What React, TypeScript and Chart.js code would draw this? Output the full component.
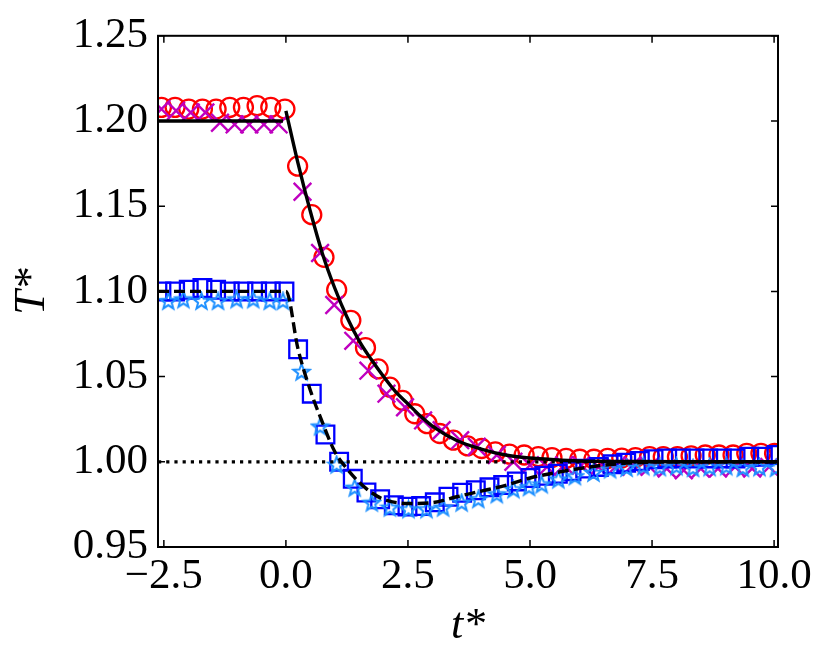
import { useEffect, useRef } from "react";
import Chart from "chart.js/auto";

const xTicks = [-2.5, 0, 2.5, 5, 7.5, 10];
const yTicks = [0.95, 1.0, 1.05, 1.1, 1.15, 1.2, 1.25];

// red circles (T = 1.2 run A)
const circleX = [
  -2.55, -2.27, -1.99, -1.71, -1.43, -1.15, -0.87, -0.59, -0.31, -0.02,
  0.24, 0.53, 0.78, 1.04, 1.33, 1.63, 1.89, 2.13, 2.39, 2.64, 2.89, 3.15,
  3.43, 3.72, 4.01, 4.29, 4.58, 4.88, 5.17, 5.45, 5.74, 6.02, 6.31, 6.59,
  6.88, 7.16, 7.45, 7.73, 8.02, 8.3, 8.59, 8.87, 9.16, 9.44, 9.73, 10.01,
];
const circleY = [
  1.208, 1.208, 1.207, 1.207, 1.207, 1.208, 1.208, 1.209, 1.208, 1.207,
  1.1735, 1.145, 1.12, 1.101, 1.083, 1.067, 1.0545, 1.0438, 1.036, 1.0282,
  1.0224, 1.0166, 1.0127, 1.0093, 1.0078, 1.0058, 1.0045, 1.004, 1.003,
  1.0025, 1.002, 1.0015, 1.0015, 1.002, 1.0022, 1.0025, 1.003, 1.003, 1.003,
  1.0035, 1.004, 1.004, 1.004, 1.005, 1.005, 1.005,
];

// magenta crosses (T = 1.2 run B)
const crossX = [
  -2.55, -2.25, -1.95, -1.65, -1.35, -1.05, -0.75, -0.45, -0.15,
  0.34, 0.7, 0.99, 1.38, 1.69, 2.06, 2.44, 2.81, 3.19, 3.57, 3.91, 4.32,
  4.66, 5.0, 5.35, 5.7, 6.05, 6.4, 6.75, 7.1, 7.45, 7.8, 8.15, 8.5, 8.85,
  9.2, 9.55, 9.9,
];
const crossY = [
  1.207, 1.206, 1.205, 1.205, 1.199, 1.198, 1.198, 1.198, 1.198,
  1.1585, 1.1225, 1.092, 1.071, 1.0535, 1.04, 1.032, 1.0243, 1.0185, 1.0127,
  1.0088, 1.004, 1.0, 0.998, 0.997, 0.998, 0.998, 0.997, 0.997, 0.998,
  0.997, 0.996, 0.995, 0.996, 0.996, 0.997, 0.996, 0.997,
];

// blue squares (T = 1.1 run A)
const squareX = [
  -2.55, -2.27, -1.99, -1.71, -1.43, -1.15, -0.87, -0.59, -0.31, -0.03,
  0.25, 0.53, 0.81, 1.09, 1.37, 1.65, 1.93, 2.21, 2.49, 2.77, 3.05, 3.33,
  3.61, 3.89, 4.17, 4.45, 4.73, 5.01, 5.29, 5.57, 5.85, 6.13, 6.41, 6.69,
  6.97, 7.25, 7.53, 7.81, 8.09, 8.37, 8.65, 8.93, 9.21, 9.49, 9.77, 10.05,
];
const squareY = [
  1.1, 1.1, 1.101, 1.102, 1.101, 1.1, 1.1, 1.1, 1.1, 1.1,
  1.066, 1.04, 1.016, 1.0, 0.99, 0.982, 0.978, 0.9745, 0.9737, 0.974,
  0.9762, 0.9795, 0.9818, 0.9833, 0.985, 0.9864, 0.9885, 0.9905, 0.9918,
  0.993, 0.9945, 0.996, 0.997, 0.9985, 0.9995, 1.0005, 1.0015, 1.002, 1.002,
  1.002, 1.002, 1.002, 1.002, 1.003, 1.003, 1.004,
];

// dodger-blue stars (T = 1.1 run B)
const starX = [
  -2.41, -2.1, -1.73, -1.39, -1.01, -0.67, -0.33, -0.06,
  0.32, 0.7, 1.04, 1.41, 1.76, 2.13, 2.51, 2.88, 3.22, 3.6, 3.94, 4.32,
  4.66, 4.98, 5.24, 5.58, 5.92, 6.3, 6.64, 6.98, 7.32, 7.66, 8.0, 8.34,
  8.68, 9.02, 9.36, 9.7, 10.04,
];
const starY = [
  1.094, 1.095, 1.094, 1.094, 1.095, 1.095, 1.094, 1.094,
  1.0525, 1.0204, 0.998, 0.9845, 0.9757, 0.9728, 0.9718, 0.9718, 0.9728,
  0.9757, 0.9777, 0.9806, 0.9835, 0.9848, 0.9864, 0.9893, 0.9912, 0.9932,
  0.9952, 0.9961, 0.997, 0.9965, 0.997, 0.996, 0.9965, 0.997, 0.996,
  0.9965, 0.996,
];

// solid reference curve (T = 1.2)
const solidX = [
  -2.62, -0.06, -0.03, 0.0, 0.25, 0.5, 0.75, 1.0, 1.25, 1.5, 1.75, 2.0,
  2.25, 2.5, 2.75, 3.0, 3.5, 4.0, 4.5, 5.0, 5.5, 6.0, 7.0, 8.0, 10.08,
];
const solidY = [
  1.2, 1.2, null, 1.206, 1.175, 1.147, 1.122, 1.102, 1.085, 1.071, 1.06,
  1.05, 1.041, 1.034, 1.027, 1.021, 1.0125, 1.0075, 1.004, 1.0022, 1.0012,
  1.0005, 1.0002, 1.0, 1.0,
];

// dashed reference curve (T = 1.1)
const dashedX = [
  -2.62, 0.0, 0.25, 0.5, 0.75, 1.0, 1.25, 1.5, 1.75, 2.0, 2.5, 3.0, 3.5,
  4.0, 4.5, 5.0, 5.5, 6.0, 6.5, 7.0, 8.0, 10.08,
];
const dashedY = [
  1.1, 1.1, 1.066, 1.042, 1.023, 1.006, 0.996, 0.988, 0.982, 0.978, 0.9755,
  0.976, 0.9795, 0.9828, 0.9862, 0.9905, 0.9935, 0.996, 0.998, 0.9992, 1.0,
  1.0,
];

const refX = [-2.62, 10.08];
const refY = [1.0, 1.0];

const FONT = "'Liberation Serif', 'DejaVu Serif', serif";

const zip = (xs: number[], ys: (number | null)[]) =>
  xs.map((x, i) => ({ x, y: ys[i] }));

function makeStar(color: string, r: number) {
  const c = document.createElement("canvas");
  const s = Math.ceil(r * 2 + 4);
  c.width = s;
  c.height = s;
  const ctx = c.getContext("2d");
  if (ctx) {
    ctx.strokeStyle = color;
    ctx.lineWidth = 2;
    ctx.beginPath();
    for (let i = 0; i < 10; i++) {
      const a = -Math.PI / 2 + (i * Math.PI) / 5;
      const rr = i % 2 === 0 ? r : r * 0.42;
      ctx.lineTo(s / 2 + rr * Math.cos(a), s / 2 + rr * Math.sin(a));
    }
    ctx.closePath();
    ctx.stroke();
  }
  return c;
}

// box around the axes plus inward ticks on all four sides
const framePlugin = {
  id: "frame",
  afterDatasetsDraw(chart: any) {
    const { ctx, chartArea: a, scales } = chart;
    ctx.save();
    ctx.strokeStyle = "#000";
    ctx.lineWidth = 1.5;
    const len = 7;
    scales.x.ticks.forEach((t: any) => {
      const px = scales.x.getPixelForValue(t.value);
      ctx.beginPath();
      ctx.moveTo(px, a.bottom);
      ctx.lineTo(px, a.bottom - len);
      ctx.moveTo(px, a.top);
      ctx.lineTo(px, a.top + len);
      ctx.stroke();
    });
    scales.y.ticks.forEach((t: any) => {
      const py = scales.y.getPixelForValue(t.value);
      ctx.beginPath();
      ctx.moveTo(a.left, py);
      ctx.lineTo(a.left + len, py);
      ctx.moveTo(a.right, py);
      ctx.lineTo(a.right - len, py);
      ctx.stroke();
    });
    ctx.lineWidth = 2;
    ctx.strokeRect(a.left, a.top, a.right - a.left, a.bottom - a.top);
    ctx.restore();
  },
};

const App = () => {
  const chartRef = useRef<HTMLCanvasElement>(null);
  const chartInstance = useRef<Chart | null>(null);

  useEffect(() => {
    if (!chartRef.current) return;
    if (chartInstance.current) chartInstance.current.destroy();
    const ctx = chartRef.current.getContext("2d");
    if (!ctx) return;

    const star = makeStar("#1e90ff", 8.5);
    const markerBase = {
      showLine: false,
      backgroundColor: "rgba(0,0,0,0)",
      clip: 0,
    };

    chartInstance.current = new Chart(ctx, {
      type: "scatter",
      data: {
        datasets: [
          {
            data: zip(refX, refY),
            showLine: true,
            borderColor: "#000",
            borderWidth: 3.2,
            borderDash: [3.2, 5],
            pointRadius: 0,
          },
          {
            data: zip(solidX, solidY),
            showLine: true,
            spanGaps: false,
            borderColor: "#000",
            borderWidth: 3.4,
            pointRadius: 0,
            cubicInterpolationMode: "monotone",
          },
          {
            data: zip(dashedX, dashedY),
            showLine: true,
            borderColor: "#000",
            borderWidth: 3.4,
            borderDash: [11, 5],
            pointRadius: 0,
            cubicInterpolationMode: "monotone",
          },
          {
            ...markerBase,
            data: zip(starX, starY),
            pointStyle: star,
            pointRadius: 8.5,
          },
          {
            ...markerBase,
            data: zip(squareX, squareY),
            pointStyle: "rect",
            pointRadius: 12.5,
            borderColor: "#0000ff",
            borderWidth: 2.3,
          },
          {
            ...markerBase,
            data: zip(crossX, crossY),
            pointStyle: "crossRot",
            pointRadius: 12.5,
            borderColor: "#bf00bf",
            borderWidth: 2.4,
          },
          {
            ...markerBase,
            data: zip(circleX, circleY),
            pointStyle: "circle",
            pointRadius: 9.5,
            borderColor: "#ff0000",
            borderWidth: 2.3,
          },
        ] as any,
      },
      options: {
        animation: false,
        responsive: true,
        maintainAspectRatio: false,
        layout: { padding: { top: 33, right: 53, left: 0, bottom: 0 } },
        plugins: {
          legend: { display: false },
          tooltip: { enabled: false },
        },
        scales: {
          x: {
            type: "linear",
            min: -2.62,
            max: 10.08,
            grid: { display: false, drawTicks: false },
            border: { display: false },
            afterBuildTicks: (s: any) => {
              s.ticks = xTicks.map((v) => ({ value: v }));
            },
            afterFit: (s: any) => {
              s.height = 122;
            },
            ticks: {
              padding: 4,
              color: "#000",
              maxRotation: 0,
              font: { family: FONT, size: 43 },
              callback: (v: any) => Number(v).toFixed(1).replace("-", "\u2212"),
            },
            title: {
              display: true,
              text: "t*",
              color: "#000",
              font: { family: FONT, size: 44, style: "italic" },
              padding: { top: 0, bottom: 16 },
            },
          },
          y: {
            type: "linear",
            min: 0.95,
            max: 1.25,
            grid: { display: false, drawTicks: false },
            border: { display: false },
            afterBuildTicks: (s: any) => {
              s.ticks = yTicks.map((v) => ({ value: v }));
            },
            afterFit: (s: any) => {
              s.width = 158;
            },
            ticks: {
              padding: 10,
              color: "#000",
              font: { family: FONT, size: 43 },
              callback: (v: any) => Number(v).toFixed(2),
            },
            title: {
              display: true,
              text: "T*",
              color: "#000",
              font: { family: FONT, size: 44, style: "italic" },
              padding: { top: 6, bottom: 0 },
            },
          },
        },
      },
      plugins: [framePlugin],
    });

    return () => {
      if (chartInstance.current) {
        chartInstance.current.destroy();
        chartInstance.current = null;
      }
    };
  }, []);

  return (
    <div
      style={{
        position: "absolute",
        left: 0,
        top: 0,
        width: "831px",
        height: "669px",
        background: "#fff",
      }}
    >
      <canvas ref={chartRef} />
    </div>
  );
};

export default App;
